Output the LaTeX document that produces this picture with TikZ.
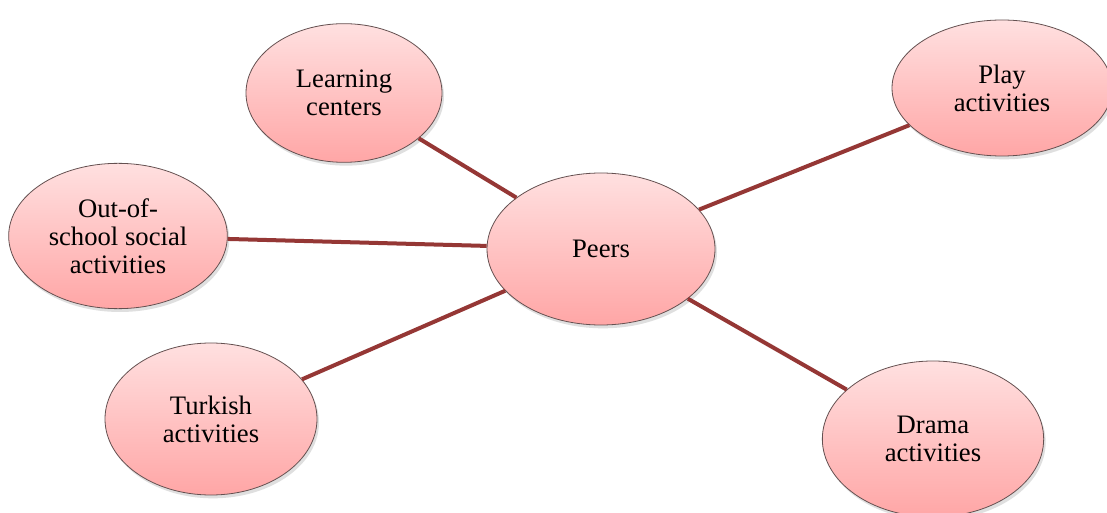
\documentclass[tikz,border=0pt]{standalone}
\usepackage{fontspec}
\setmainfont{Liberation Serif}
\newfontfamily\bubblefont{Liberation Serif}
\usetikzlibrary{shapes.geometric,shadows}
\definecolor{linkred}{RGB}{149,55,53}
\definecolor{toppink}{RGB}{255,224,224}
\definecolor{botpink}{RGB}{255,166,166}
\tikzset{
  bubble/.style={ellipse, draw={rgb,255:red,100;green,80;blue,80}, line width=0.6pt,
    top color=toppink, bottom color=botpink, inner sep=0pt, align=center,
    font=\bubblefont\fontsize{20}{21}\selectfont,
    drop shadow={shadow xshift=1.5pt, shadow yshift=-2.5pt, opacity=0.25}},
  link/.style={draw=linkred, line width=3pt}
}
\begin{document}
\begin{tikzpicture}[x=0.75pt,y=0.75pt,yscale=-1,xscale=1]
\clip (0,0) rectangle (1107,513);
\fill[white] (0,0) rectangle (1107,513);

% Ellipses
\node[bubble, minimum width=171pt, minimum height=114pt] (peers) at (601,249) {Peers};
\node[bubble, minimum width=147pt, minimum height=104pt] (learning) at (344,93) {Learning\\centers};
\node[bubble, minimum width=165pt, minimum height=102pt] (play) at (1002,88) {Play\\activities};
\node[bubble, minimum width=164pt, minimum height=109pt] (outschool) at (118,236) {Out-of-\\school social\\activities};
\node[bubble, minimum width=159pt, minimum height=114pt] (turkish) at (211,419) {Turkish\\activities};
\node[bubble, minimum width=166pt, minimum height=117pt] (drama) at (933,439) {Drama\\activities};

% Connectors
\draw[link] (peers) -- (learning);
\draw[link] (peers) -- (play);
\draw[link] (peers) -- (outschool);
\draw[link] (peers) -- (turkish);
\draw[link] (peers) -- (drama);

\end{tikzpicture}
\end{document}
